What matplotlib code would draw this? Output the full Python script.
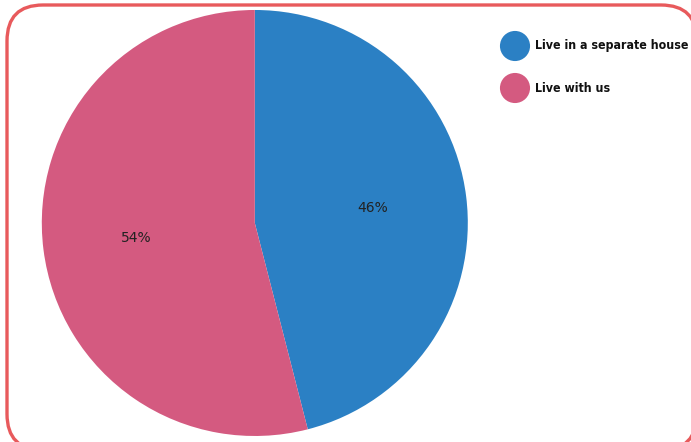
import matplotlib
matplotlib.use('Agg')
import matplotlib.pyplot as plt
from matplotlib.patches import FancyBboxPatch

# data
labels = ['Live in a separate house', 'Live with us']
values = [46, 54]
colors = ['#2b80c4', '#d45a80']

fig = plt.figure(figsize=(6.91, 4.42), dpi=100)

# background frame with rounded corners (pixel coords)
bg = fig.add_axes([0, 0, 1, 1])
bg.set_xlim(0, 691)
bg.set_ylim(442, 0)
bg.axis('off')
frame = FancyBboxPatch((7, 5), 690, 445, boxstyle='round,pad=0,rounding_size=36',
                       facecolor='white', edgecolor='#e85a5c', linewidth=2.4, clip_on=False)
bg.add_patch(frame)

# pie
ax = fig.add_axes([0.0605, 0.0135, 0.6165, 0.964])
ax.pie(values, colors=colors, startangle=90, counterclock=False,
       autopct='%d%%', pctdistance=0.56,
       textprops={'fontsize': 10, 'color': '#222222'},
       wedgeprops={'linewidth': 0})
ax.set_xlim(-1, 1)
ax.set_ylim(-1, 1)
ax.set_aspect('equal')

# legend drawn by hand
leg_y = [46, 88]
bg.scatter([515] * len(labels), leg_y, s=470, c=colors, linewidths=0)
for lab, y in zip(labels, leg_y):
    bg.text(535, y, lab, va='center', ha='left', fontsize=8.9, fontweight='bold',
            fontstretch='condensed', family='DejaVu Sans', color='#111111')

plt.savefig('out.png', dpi=100)
